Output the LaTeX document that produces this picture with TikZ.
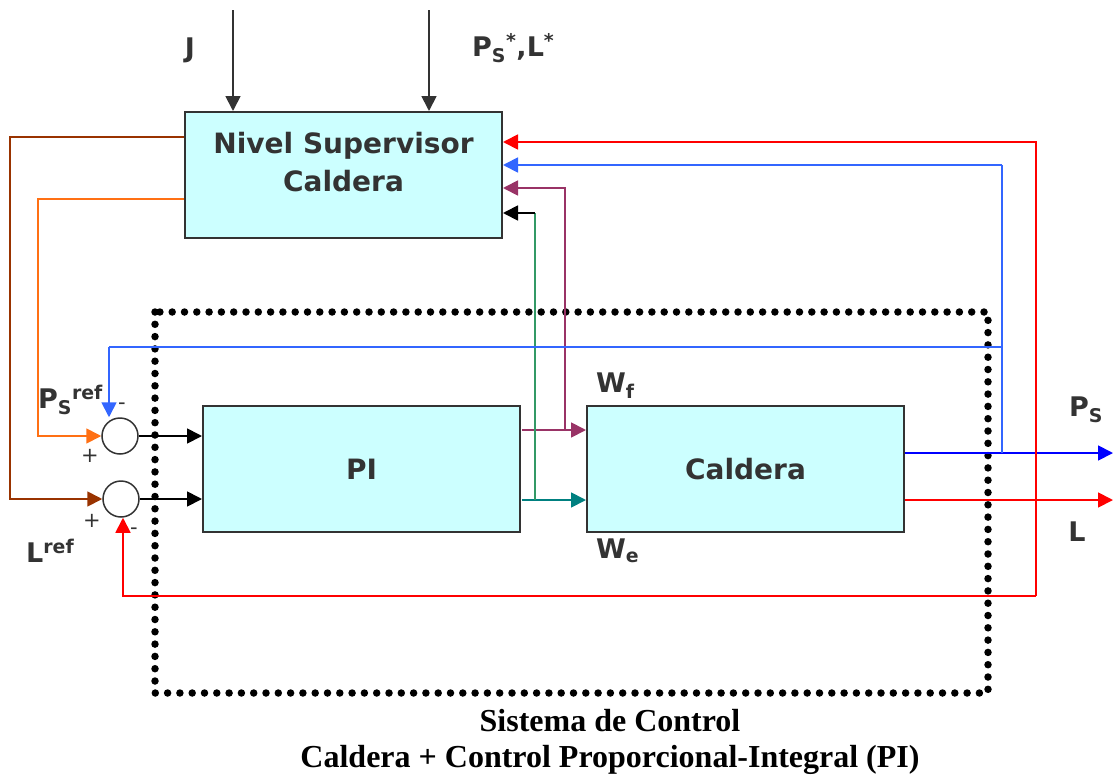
\documentclass[tikz,border=0pt]{standalone}
\usepackage{fontspec}
\setmainfont{Liberation Serif}
\setsansfont{DejaVu Sans}
\usetikzlibrary{arrows.meta}
\definecolor{boxfill}{RGB}{204,255,255}
\definecolor{boxline}{RGB}{51,51,51}
\definecolor{cOrange}{RGB}{255,112,20}
\definecolor{cBrown}{RGB}{153,51,0}
\definecolor{cLBlue}{RGB}{51,102,255}
\definecolor{cBlue}{RGB}{0,0,255}
\definecolor{cRed}{RGB}{255,0,0}
\definecolor{cPurple}{RGB}{153,51,102}
\definecolor{cTeal}{RGB}{0,128,128}
\definecolor{cGreen}{RGB}{51,153,102}
\begin{document}
\begin{tikzpicture}[x=1pt,y=-1pt,
  blk/.style={draw=boxline,line width=2pt,fill=boxfill,minimum width=317pt,minimum height=126pt,
    font=\sffamily\bfseries\fontsize{28}{38}\selectfont,align=center,text=boxline},
  blktxt/.style={font=\sffamily\bfseries\fontsize{28}{38}\selectfont,align=center,text=boxline},
  sumnode/.style={circle,draw=boxline,line width=1.5pt,minimum size=36pt,inner sep=0pt},
  sig/.style={line width=1.8pt},
  tip/.style={-{Triangle[length=15pt,width=15pt]}},
  lbl/.style={font=\sffamily\bfseries\fontsize{27}{30}\selectfont,text=boxline,inner sep=0pt},
  sgn/.style={font=\sffamily\fontsize{21}{24}\selectfont,text=boxline,inner sep=0pt},
  captxt/.style={font=\bfseries\fontsize{32}{36}\selectfont,inner sep=0pt}]
\useasboundingbox (0,0) rectangle (1113,779);

% blocks
\node[blk] (sup) at (343.5,175) {};
\node[blktxt] (suptxt) at ([yshift=13pt]sup.center) {Nivel Supervisor\\Caldera};
\node[blk] (pi) at (361.5,469) {PI};
\node[blk] (cal) at (745.5,469) {Caldera};
\node[sumnode] (s1) at (120,436) {};
\node[sumnode] (s2) at (121,499) {};

% control system frame
\draw[line width=7.5pt,line cap=round,dash pattern=on 0pt off 12.3pt] (155,312) rectangle (988,693);

% external inputs to the supervisor
\coordinate (jtop) at (233,10);
\coordinate (ptop) at (429,10);
\draw[sig,boxline,tip] (jtop) -- (jtop |- sup.north);
\draw[sig,boxline,tip] (ptop) -- (ptop |- sup.north);
\node[lbl] (jl) at (190,50) {J};
\node[lbl,anchor=west] (pl) at (472,48) {P\textsubscript{S}\textsuperscript{*},L\textsuperscript{*}};

% references from the supervisor
\coordinate (o1) at (38,199);
\coordinate (b1) at (10,137);
\draw[sig,cOrange,tip] (sup.west |- o1) -- (o1) -- (o1 |- s1) -- (s1.west);
\draw[sig,cBrown,tip] (sup.west |- b1) -- (b1) -- (b1 |- s2) -- (s2.west);

% error signals into PI
\draw[sig,black,tip] (s1.east) -- (pi.west |- s1);
\draw[sig,black,tip] (s2.east) -- (pi.west |- s2);

% manipulated variables
\coordinate (wf) at (522,430);
\coordinate (we) at (522,500);
\coordinate (wfu) at (565,188);
\coordinate (weu) at (535,213);
\draw[sig,cPurple,tip] (wf) -- (cal.west |- wf);
\draw[sig,cTeal,tip] (we) -- (cal.west |- we);
\draw[sig,cPurple,tip] (wfu |- wf) -- (wfu) -- (sup.east |- wfu);
\draw[sig,cGreen] (weu |- we) -- (weu);
\draw[sig,black,tip] (weu) -- (sup.east |- weu);
\node[lbl,anchor=west] (wfl) at (596,386) {W\textsubscript{f}};
\node[lbl,anchor=west] (wel) at (596,551) {W\textsubscript{e}};

% plant outputs
\coordinate (psend) at (1113,453);
\coordinate (lend) at (1113,500);
\draw[sig,cBlue,tip] (cal.east |- psend) -- (psend);
\draw[sig,cRed,tip] (cal.east |- lend) -- (lend);
\node[lbl] (psl) at (1086,410) {P\textsubscript{S}};
\node[lbl] (ll) at (1077,532) {L};

% pressure feedback
\coordinate (bx) at (1002,453);
\coordinate (bt) at (1002,165);
\coordinate (bm) at (1002,347);
\coordinate (bl) at (109,347);
\draw[sig,cLBlue,line width=1.5pt] (bx) -- (bt);
\draw[sig,cLBlue,tip] (bt) -- (sup.east |- bt);
\draw[sig,cLBlue,line width=1.5pt] (bm) -- (bl);
\draw[sig,cLBlue,tip] (bl) -- (bl |- s1.north);

% level feedback
\coordinate (rt) at (1036,142);
\coordinate (rb) at (1036,596);
\coordinate (rl) at (123,596);
\draw[sig,cRed,tip] (rb) -- (rt) -- (sup.east |- rt);
\draw[sig,cRed,tip] (rb) -- (rl) -- (rl |- s2.south);

% reference labels and signs
\node[lbl,anchor=west] (psr) at (38,400) {P\textsubscript{S}\textsuperscript{ref}};
\node[lbl,anchor=west] (lr) at (26,551) {L\textsuperscript{ref}};
\node[sgn] (m1) at (122,406) {-};
\node[sgn] (p1) at (90,456) {+};
\node[sgn] (p2) at (92,521) {+};
\node[sgn] (m2) at (134,531) {-};

% caption
\node[captxt] (c1) at (610,721) {Sistema de Control};
\node[captxt] (c2) at (610,760) {Caldera + Control Proporcional-Integral (PI)};
\end{tikzpicture}
\end{document}
